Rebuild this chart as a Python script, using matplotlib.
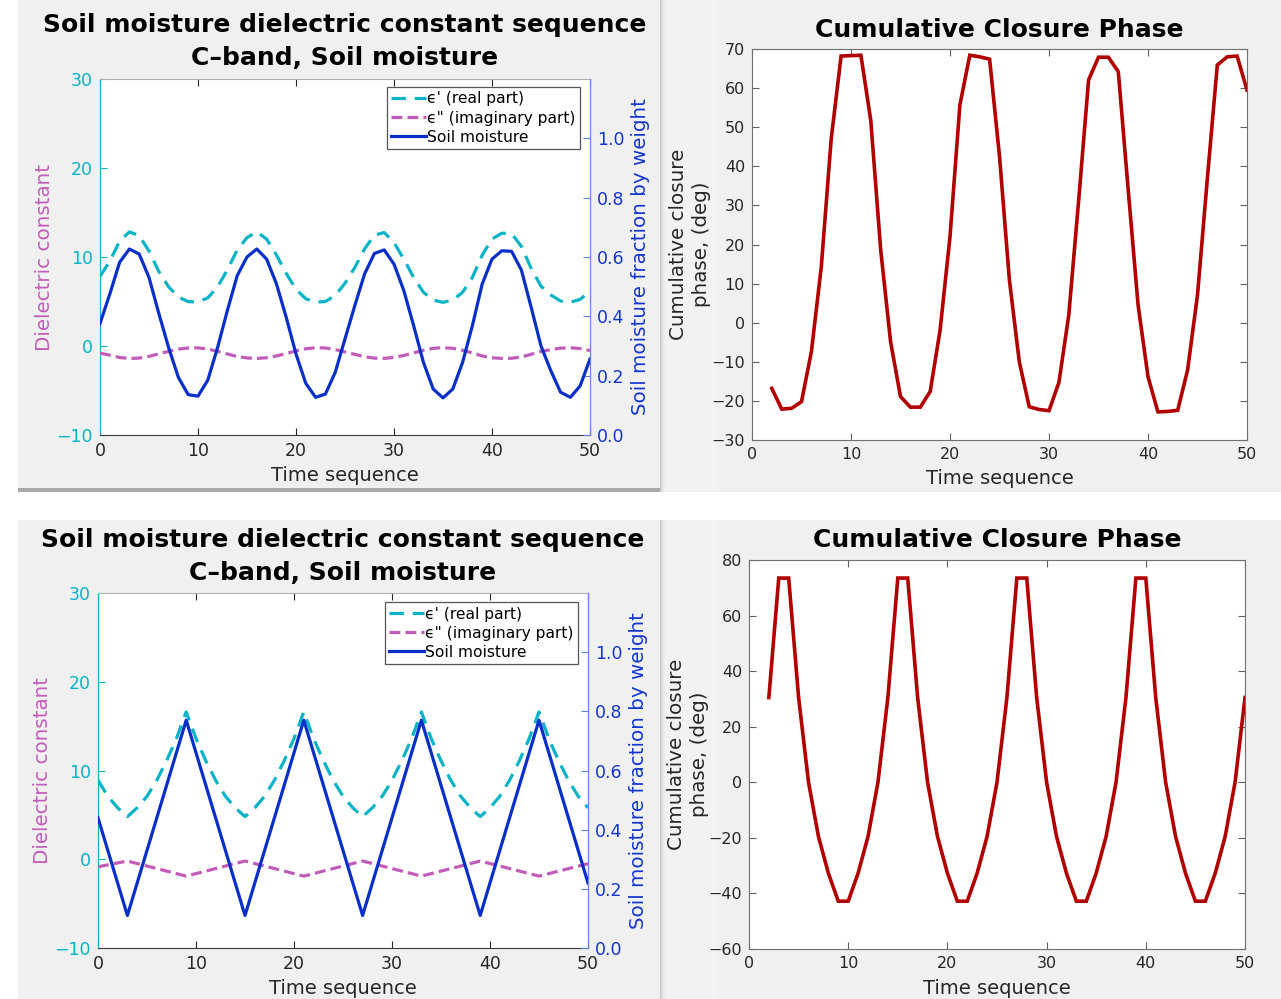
import numpy as np
import matplotlib.pyplot as plt
from matplotlib.patches import Rectangle
from matplotlib.ticker import FormatStrFormatter

# ---------------- data ----------------
# Smooth (sinusoidal) moisture scenario, sampled at every time step
t_smooth = list(range(0, 51))
eps_real_smooth = [7.82, 9.54, 11.77, 12.82, 12.41, 10.66, 8.37, 6.65, 5.50, 4.99,
                   4.95, 5.41, 6.65, 8.55, 10.79, 12.18, 12.82, 12.02, 10.23, 8.16,
                   6.37, 5.31, 4.92, 5.00, 5.67, 7.05, 8.82, 10.91, 12.46, 12.75,
                   11.63, 9.77, 7.71, 6.04, 5.15, 4.91, 5.15, 6.04, 7.71, 10.21,
                   12.02, 12.67, 12.63, 11.19, 8.72, 6.72, 5.73, 5.05, 4.92, 5.24,
                   6.16]
eps_imag_smooth = [-0.80, -1.03, -1.29, -1.40, -1.36, -1.17, -0.88, -0.60, -0.36, -0.22,
                   -0.21, -0.34, -0.60, -0.90, -1.18, -1.34, -1.40, -1.32, -1.12, -0.85,
                   -0.55, -0.31, -0.20, -0.22, -0.40, -0.67, -0.94, -1.20, -1.36, -1.39,
                   -1.28, -1.06, -0.78, -0.48, -0.26, -0.19, -0.26, -0.48, -0.78, -1.12,
                   -1.32, -1.39, -1.38, -1.23, -0.93, -0.61, -0.41, -0.24, -0.20, -0.29,
                   -0.51]
moist_smooth = [0.376, 0.475, 0.582, 0.627, 0.610, 0.531, 0.410, 0.295, 0.194, 0.136,
                0.131, 0.185, 0.295, 0.420, 0.537, 0.600, 0.627, 0.593, 0.510, 0.397,
                0.273, 0.174, 0.127, 0.138, 0.211, 0.324, 0.436, 0.543, 0.612, 0.624,
                0.576, 0.487, 0.369, 0.245, 0.155, 0.125, 0.155, 0.245, 0.369, 0.509,
                0.593, 0.621, 0.619, 0.556, 0.430, 0.300, 0.217, 0.144, 0.127, 0.166,
                0.256]

t_phase_smooth = list(range(2, 51))
phase_smooth = [-16.8, -22.1, -21.9, -20.2, -7.4, 14.3, 47.0, 68.2, 68.3, 68.4,
                51.7, 18.6, -4.9, -18.9, -21.6, -21.6, -17.6, -1.9, 22.0, 55.7,
                68.4, 68.0, 67.4, 42.6, 10.9, -10.0, -21.5, -22.2, -22.5, -15.3,
                2.0, 31.4, 62.1, 67.9, 67.9, 64.2, 34.0, 4.5, -13.8, -22.8,
                -22.7, -22.4, -12.1, 7.1, 37.0, 65.9, 68.0, 68.2, 59.5]

# Triangular (saw-tooth) moisture scenario
t_tri = list(range(0, 51))
eps_real_tri = [8.9, 7.1, 5.8, 4.8, 5.8, 7.1, 8.9, 11.1, 13.6, 16.6,
                13.6, 11.1, 8.9, 7.1, 5.8, 4.8, 5.8, 7.1, 8.9, 11.1,
                13.6, 16.6, 13.6, 11.1, 8.9, 7.1, 5.8, 4.8, 5.8, 7.1,
                8.9, 11.1, 13.6, 16.6, 13.6, 11.1, 8.9, 7.1, 5.8, 4.8,
                5.8, 7.1, 8.9, 11.1, 13.6, 16.6, 13.6, 11.1, 8.9, 7.1,
                5.8]
t_tri_knots = [0, 3, 9, 15, 21, 27, 33, 39, 45, 50]
eps_imag_tri = [-0.85, -0.2, -1.9, -0.2, -1.9, -0.2, -1.9, -0.2, -1.9, -0.5]
moist_tri = [0.44, 0.11, 0.77, 0.11, 0.77, 0.11, 0.77, 0.11, 0.77, 0.22]

t_phase_tri = list(range(2, 51))
phase_tri = [30.5, 73.5, 73.5, 30.5, 0.0, -19.5, -32.7, -42.8, -42.8, -32.7,
             -19.5, 0.0, 30.5, 73.5, 73.5, 30.5, 0.0, -19.5, -32.7, -42.8,
             -42.8, -32.7, -19.5, 0.0, 30.5, 73.5, 73.5, 30.5, 0.0, -19.5,
             -32.7, -42.8, -42.8, -32.7, -19.5, 0.0, 30.5, 73.5, 73.5, 30.5,
             0.0, -19.5, -32.7, -42.8, -42.8, -32.7, -19.5, 0.0, 30.5]

x_ticks = [0, 10, 20, 30, 40, 50]
left_ticks = [-10, 0, 10, 20, 30]
right_ticks = [0.0, 0.2, 0.4, 0.6, 0.8, 1.0]
legend_labels = ["\u03f5' (real part)", '\u03f5" (imaginary part)', "Soil moisture"]

# ---------------- style ----------------
CYAN = '#0bb3c6'
MAGENTA = '#c25cb9'
BLUE = '#0a2fc8'
BLUE_TXT = '#1336cc'
RED = '#b00000'
PANEL = '#f0f0f0'
DARK = '#262626'
plt.rcParams['font.family'] = ['DejaVu Sans']
plt.rcParams['axes.unicode_minus'] = True

W, H = 1281, 999
fig = plt.figure(figsize=(W / 100, H / 100), dpi=100)
fig.patch.set_facecolor('white')

# background layer for the window panels, kept underneath every plot axes
bg = fig.add_axes([0, 0, 1, 1], zorder=-10)
bg.set_xlim(0, W)
bg.set_ylim(H, 0)
bg.axis('off')


def box(x0, y0, x1, y1):
    """Figure-fraction rectangle from pixel corners measured from the top-left."""
    return [x0 / W, 1 - y1 / H, (x1 - x0) / W, (y1 - y0) / H]


def fx(x):
    return x / W


def fy(y):
    return 1 - y / H


def panel(x0, y0, x1, y1, color=PANEL):
    bg.add_patch(Rectangle((x0, y0), x1 - x0, y1 - y0, facecolor=color,
                           edgecolor='none'))


# window backgrounds
panel(18, 0, 662, 488)
panel(18, 488, 662, 492, '#a9a9a9')
panel(662, 0, 1281, 492)
panel(18, 520, 662, 999)
panel(662, 520, 1281, 999)
panel(665, 0, 718, 492, '#f2f2f2')
panel(665, 520, 718, 999, '#f2f2f2')
for i, c in enumerate(['#c8c8c8', '#d8d8d8', '#e2e2e2', '#e8e8e8', '#ececec']):
    panel(660 + i, 0, 661 + i, 492, c)
    panel(660 + i, 520, 661 + i, 999, c)


def dielectric_panel(rect, title_y, xlabel_y, ylab_x, ylab2_x, t_eps, e_real, t_im, e_imag,
                     t_m, moist, legend_anchor):
    ax = fig.add_axes(rect)
    ax.set_facecolor('white')
    ax.plot(t_eps, e_real, color=CYAN, lw=2.3, ls=(0, (4.5, 2.8)), zorder=3)
    ax.plot(t_im, e_imag, color=MAGENTA, lw=2.3, ls=(0, (3.4, 1.6)), zorder=3)
    ax.set_xlim(0, 50)
    ax.set_ylim(-10, 30)
    ax.set_xticks(x_ticks)
    ax.set_yticks(left_ticks)
    ax.tick_params(axis='x', direction='in', length=5, top=True, colors=DARK,
                   labelsize=12.5, pad=5, width=0.8)
    ax.tick_params(axis='y', direction='in', length=5, colors=CYAN, labelcolor=CYAN,
                   labelsize=12.5, pad=5, width=0.8)
    ax.spines['bottom'].set_color('#3a3a3a')
    ax.spines['top'].set_color('#b0b0b0')
    ax.spines['left'].set_color(CYAN)
    for s in ax.spines.values():
        s.set_linewidth(0.8)

    ax2 = ax.twinx()
    ax2.plot(t_m, moist, color=BLUE, lw=2.3, zorder=3)
    ax2.set_ylim(0, 1.2)
    ax2.set_yticks(right_ticks)
    ax2.yaxis.set_major_formatter(FormatStrFormatter('%.1f'))
    ax2.tick_params(axis='y', direction='in', length=5, colors='#5f7fe0', labelcolor=BLUE_TXT,
                    labelsize=12.5, pad=5, width=0.8)
    ax2.spines['right'].set_color('#6d8ae6')
    ax2.spines['left'].set_visible(False)
    ax2.spines['top'].set_visible(False)
    ax2.spines['bottom'].set_visible(False)

    handles = [ax.lines[0], ax.lines[1], ax2.lines[0]]
    leg = ax2.legend(handles, legend_labels, loc='upper right', bbox_to_anchor=legend_anchor,
                     fontsize=11.2, frameon=True, fancybox=False, framealpha=1,
                     edgecolor='#555555', handlelength=2.2, handletextpad=0.1,
                     labelspacing=0.26, borderpad=0.3, borderaxespad=0)
    leg.get_frame().set_linewidth(0.9)

    cx = rect[0] + rect[2] / 2
    fig.text(cx, fy(title_y[0]), 'Soil moisture dielectric constant sequence',
             ha='center', va='center', fontsize=18, fontweight='bold', color='black')
    fig.text(cx, fy(title_y[1]), 'C\u2013band, Soil moisture',
             ha='center', va='center', fontsize=18, fontweight='bold', color='black')
    fig.text(cx, fy(xlabel_y), 'Time sequence', ha='center', va='center',
             fontsize=14, color=DARK)
    yc = rect[1] + rect[3] / 2
    fig.text(fx(ylab_x), yc, 'Dielectric constant', rotation=90, ha='center', va='center',
             fontsize=14.3, color=MAGENTA)
    fig.text(fx(ylab2_x), yc, 'Soil moisture fraction by weight', rotation=90,
             ha='center', va='center', fontsize=14.3, color=BLUE_TXT)
    return ax, ax2


def phase_panel(rect, t, phase, ylim, yticks, title_y, xlabel_y, ylab_x):
    ax = fig.add_axes(rect)
    ax.set_facecolor('white')
    ax.plot(t, phase, color=RED, lw=2.6, solid_joinstyle='miter')
    ax.set_xlim(0, 50)
    ax.set_ylim(*ylim)
    ax.set_xticks(x_ticks)
    ax.set_yticks(yticks)
    ax.tick_params(direction='in', length=5, top=True, right=True, colors='#606060',
                   labelcolor=DARK, labelsize=11.5, pad=5, width=0.8)
    for s in ax.spines.values():
        s.set_color('#707070')
        s.set_linewidth(0.8)
    cx = rect[0] + rect[2] / 2
    fig.text(cx, fy(title_y), 'Cumulative Closure Phase', ha='center', va='center',
             fontsize=18, fontweight='bold', color='black')
    fig.text(cx, fy(xlabel_y), 'Time sequence', ha='center', va='center',
             fontsize=14, color=DARK)
    yc = rect[1] + rect[3] / 2
    fig.text(fx(ylab_x), yc, 'Cumulative closure\nphase, (deg)', rotation=90,
             ha='center', va='center', multialignment='center', linespacing=1.25,
             fontsize=14.3, color=DARK)
    return ax


dielectric_panel(box(100, 79, 590, 435), (25, 58), 476, 45, 641,
                 t_smooth, eps_real_smooth, t_smooth, eps_imag_smooth,
                 t_smooth, moist_smooth, (0.98, 0.978))
phase_panel(box(752, 49, 1247, 440), t_phase_smooth, phase_smooth, (-30, 70),
            list(range(-30, 71, 10)), 30, 479, 690)

dielectric_panel(box(98, 593, 588, 948), (540, 573), 989, 43, 639,
                 t_tri, eps_real_tri, t_tri_knots, eps_imag_tri,
                 t_tri_knots, moist_tri, (0.98, 0.975))
phase_panel(box(749, 560, 1245, 949), t_phase_tri, phase_tri, (-60, 80),
            list(range(-60, 81, 20)), 540, 988, 688)

fig.savefig('out.png', dpi=100, facecolor=fig.get_facecolor())
